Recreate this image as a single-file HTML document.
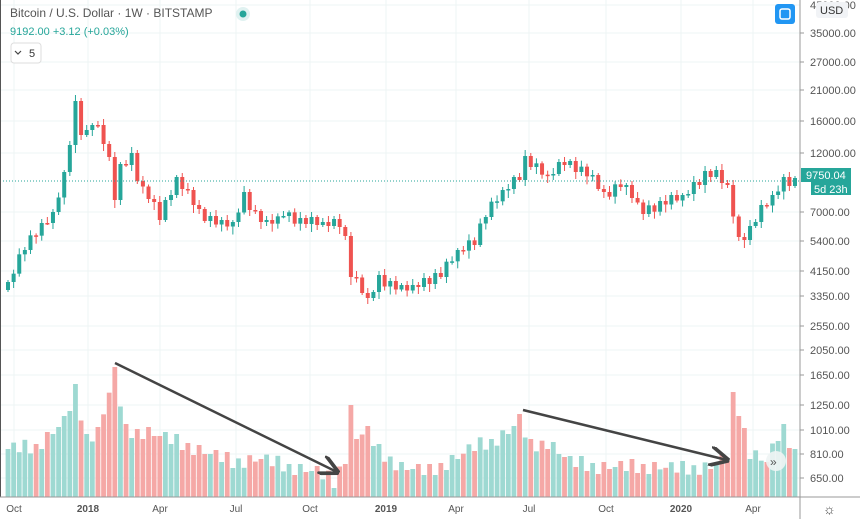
<!DOCTYPE html>
<html><head><meta charset="utf-8"><style>
body{margin:0;width:860px;height:519px;overflow:hidden;background:#fff;font-family:"Liberation Sans",sans-serif}
svg{position:absolute;left:0;top:0}
</style></head><body>
<svg id="s" width="860" height="519" xmlns="http://www.w3.org/2000/svg" font-family="Liberation Sans, sans-serif"></svg>
<script>
const s=document.getElementById('s');let h='';
const ticks=[[5,'45000.00'],[33,'35000.00'],[62,'27000.00'],[90,'21000.00'],[121,'16000.00'],[153,'12000.00'],[212,'7000.00'],[241,'5400.00'],[271,'4150.00'],[296,'3350.00'],[326,'2550.00'],[350,'2050.00'],[375,'1650.00'],[405,'1250.00'],[430,'1010.00'],[454,'810.00'],[478,'650.00']];
const months=[[14,'Oct'],[88,'2018'],[160,'Apr'],[236,'Jul'],[310,'Oct'],[386,'2019'],[456,'Apr'],[529,'Jul'],[606,'Oct'],[681,'2020'],[753,'Apr']];
for(const[y] of ticks)h+=`<line x1="0" x2="800" y1="${y}" y2="${y}" stroke="#eef4f4" stroke-width="1"/>`;
for(const[x] of months)h+=`<line x1="${x}" x2="${x}" y1="0" y2="497" stroke="#eef4f4" stroke-width="1"/>`;
function interp(k,n){const r=[];for(let i=0;i<n;i++){let j=0;while(j<k.length-2&&k[j+1][0]<i)j++;const[a,va]=k[j],[b,vb]=k[j+1];r.push(va+(vb-va)*Math.max(0,Math.min(1,(i-a)/(b-a))));}return r;}
const n=141;
const ck=[[0,282],[3,245],[6,228],[8,212],[10,175],[11,140],[12,105],[13,133],[14,135],[15,122],[16,125],[17,140],[18,160],[19,195],[20,168],[22,158],[23,178],[25,195],[27,215],[30,182],[32,190],[34,212],[36,220],[38,225],[40,222],[42,195],[44,215],[46,225],[49,212],[52,222],[59,222],[60,240],[61,275],[63,290],[64,298],[66,278],[68,285],[70,290],[72,285],[77,275],[80,250],[83,240],[85,215],[88,190],[91,175],[92,160],[93,165],[96,175],[99,160],[101,170],[104,175],[106,195],[109,185],[111,195],[113,210],[116,205],[120,195],[124,175],[126,175],[128,185],[130,240],[132,230],[134,210],[136,195],[138,180],[140,182]];
const c=interp(ck,n).map((v,i)=>v+[0,4,-3,5,-4,2,-5,3][i%8]);
const vk=[[0,48],[5,50],[10,75],[12,105],[14,60],[16,65],[19,124],[21,65],[25,65],[30,55],[35,45],[40,35],[45,38],[50,30],[55,25],[58,15],[60,40],[61,87],[62,60],[64,65],[66,45],[70,30],[75,25],[80,40],[83,50],[86,55],[89,65],[91,77],[93,50],[96,55],[100,35],[105,30],[110,30],[115,30],[120,28],[125,30],[128,40],[129,97],[130,87],[132,45],[135,35],[137,60],[138,65],[140,45]];
const vol=interp(vk,n).map((v,i)=>v+[0,6,-4,8,-6,3,-7,5,-2][i%9]);
const x0=8,dx=(795-x0)/(n-1);
for(let i=0;i<n;i++){const x=x0+i*dx,o=i?c[i-1]:290,cl=c[i],up=cl<o,col=up?'#26a69a':'#ef5350';
 const top=Math.min(o,cl),bot=Math.max(o,cl),w1=2+((i*7)%5),w2=2+((i*11)%7);
 h+=`<line x1="${x}" x2="${x}" y1="${top-w1}" y2="${bot+w2}" stroke="${col}" stroke-width="1"/>`;
 h+=`<rect x="${x-2}" y="${top}" width="4" height="${Math.max(1.5,bot-top)}" fill="${col}"/>`;
 const v=Math.max(8,vol[i]);
 h+=`<rect x="${x-2.4}" y="${497-v}" width="4.8" height="${v}" fill="${up?'#9ed9d2':'#f5a8a6'}"/>`;}
h+=`<line x1="0" x2="800" y1="181" y2="181" stroke="#26a69a" stroke-dasharray="1 2" stroke-width="1"/>`;
h+=`<line x1="0" x2="0" y1="0" y2="497" stroke="#555" stroke-width="2"/>`;
h+=`<line x1="800" x2="800" y1="0" y2="519" stroke="#999" stroke-width="1"/><line x1="0" x2="860" y1="497" y2="497" stroke="#999" stroke-width="1"/>`;
for(const[y,t] of ticks){if(y>10){h+=`<line x1="800" x2="804" y1="${y}" y2="${y}" stroke="#999"/><text x="810" y="${y+4}" font-size="11" fill="#555">${t}</text>`}}
h+=`<text x="810" y="9" font-size="11" fill="#555">45000.00</text><rect x="816" y="2" width="32" height="16" rx="3" fill="#f1f3f6"/><text x="820" y="14" font-size="11" fill="#333">USD</text>`;
for(const[x,t] of months)h+=`<text x="${x}" y="512" font-size="10" fill="#555" text-anchor="middle" ${t.length==4?'font-weight="bold"':''}>${t}</text>`;
h+=`<rect x="801" y="168" width="50" height="14" fill="#26a69a"/><text x="806" y="179" font-size="11" fill="#fff">9750.04</text>`;
h+=`<rect x="811" y="182" width="40" height="13" fill="#26a69a"/><text x="814" y="193" font-size="11" fill="#fff">5d 23h</text>`;
h+=`<defs><marker id="a" markerWidth="8" markerHeight="8" refX="7" refY="4" orient="auto"><path d="M0,0 L8,4 L0,8" fill="none" stroke="#444" stroke-width="1.5"/></marker></defs>`;
h+=`<line x1="115" y1="363" x2="337" y2="472" stroke="#444" stroke-width="2.5" marker-end="url(#a)"/>`;
h+=`<line x1="523" y1="410" x2="727" y2="460" stroke="#444" stroke-width="2.5" marker-end="url(#a)"/>`;
h+=`<text x="10" y="17" font-size="12" fill="#555">Bitcoin / U.S. Dollar · 1W · BITSTAMP</text><circle cx="243" cy="14" r="7" fill="#e0f2f1"/><circle cx="243" cy="14" r="3.5" fill="#26a69a"/>`;
h+=`<text x="10" y="35" font-size="11" fill="#26a69a">9192.00 +3.12 (+0.03%)</text>`;
h+=`<rect x="11" y="43" width="30" height="20" rx="3" fill="#fff" stroke="#ddd"/><path d="M15,51 l3,3 l3,-3" fill="none" stroke="#444" stroke-width="1.2"/><text x="29" y="57" font-size="11" fill="#333">5</text>`;
h+=`<rect x="775" y="4" width="20" height="20" rx="3" fill="#2196f3"/><rect x="780" y="9" width="10" height="10" rx="2" fill="none" stroke="#fff" stroke-width="1.5"/>`;
h+=`<circle cx="776" cy="461" r="10" fill="#eef4f4" opacity="0.9"/><text x="770" y="466" font-size="12" fill="#555">»</text>`;
h+=`<text x="823" y="514" font-size="14" fill="#444">☼</text>`;
s.innerHTML=h;
</script>
</body></html>
